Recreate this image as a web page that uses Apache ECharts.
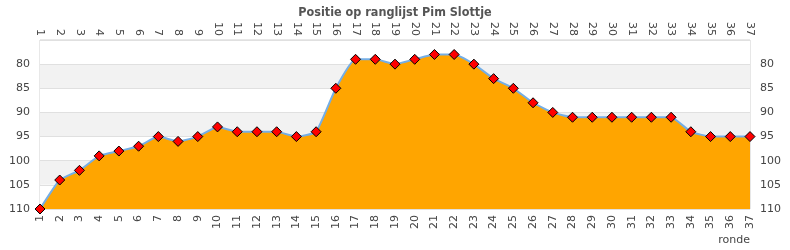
<!DOCTYPE html>
<html><head><meta charset="utf-8">
<script src="https://cdn.jsdelivr.net/npm/echarts@6/dist/echarts.min.js"></script>
<style>html,body{margin:0;padding:0;background:#fff}#c{width:790px;height:250px}</style>
</head><body><div id="c"></div>
<script>
const titleText = 'Positie op ranglijst Pim Slottje';
const rondes = ['1','2','3','4','5','6','7','8','9','10','11','12','13','14','15','16','17','18','19','20','21','22','23','24','25','26','27','28','29','30','31','32','33','34','35','36','37'];
const positie = [110,104,102,99,98,97,95,96,95,93,94,94,94,95,94,85,79,79,80,79,78,78,80,83,85,88,90,91,91,91,91,91,91,94,95,95,95];
const yMin = 75, yMax = 110, yStep = 5;

const chart = echarts.init(document.getElementById('c'), null, {renderer:'canvas'});
const lbl = {color:'#444', fontSize:11, fontFamily:'DejaVu Sans'};
const yAxisCommon = {
  type:'value', inverse:true, min:yMin, max:yMax, interval:yStep,
  axisLine:{show:false}, axisTick:{show:false},
  axisLabel:Object.assign({showMinLabel:false, margin:10}, lbl)
};
chart.setOption({
  animation:false,
  title:{text:titleText, left:'center', top:1,
    textStyle:{fontFamily:'DejaVu Sans Condensed', fontWeight:'bold', fontSize:12.5, color:'#555'}},
  grid:{left:40, right:40, top:40, bottom:41, show:true, borderColor:'#d0d0d0', borderWidth:1, backgroundColor:'transparent'},
  xAxis:[
    {type:'category', data:rondes, boundaryGap:false, position:'bottom',
     name:'ronde', nameLocation:'end', nameGap:0,
     nameTextStyle:{color:'#444', fontSize:11, fontFamily:'DejaVu Sans', align:'right', verticalAlign:'top', padding:[26,0,0,0]},
     axisLine:{show:false}, axisTick:{show:false}, splitLine:{show:false},
     axisLabel:Object.assign({rotate:90, interval:0, margin:6}, lbl)},
    {type:'category', data:rondes, boundaryGap:false, position:'top',
     axisLine:{show:false}, axisTick:{show:false}, splitLine:{show:false},
     axisLabel:Object.assign({rotate:90, interval:0, margin:4}, lbl)}
  ],
  yAxis:[
    Object.assign({position:'left',
      splitLine:{show:true, lineStyle:{color:'#e0e0e0', width:1}},
      splitArea:{show:true, areaStyle:{color:['#ffffff','#f2f2f2']}}}, yAxisCommon),
    Object.assign({position:'right', splitLine:{show:false}}, yAxisCommon)
  ],
  series:[{
    type:'line', data:positie, xAxisIndex:0, yAxisIndex:0,
    smooth:0.15,
    symbol:'diamond', symbolSize:10,
    itemStyle:{color:'#ff0000', borderColor:'#000', borderWidth:1},
    lineStyle:{color:'#74aee6', width:2},
    areaStyle:{color:'#ffa500', opacity:1, origin:'end'},
    z:3
  }]
});
</script></body></html>
